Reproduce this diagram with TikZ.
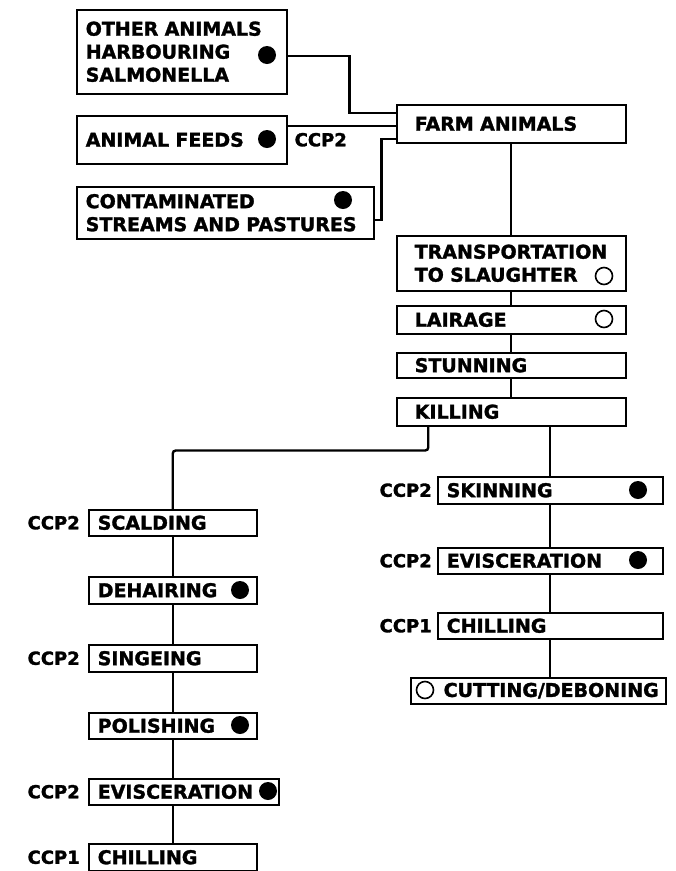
\documentclass[tikz,border=0pt]{standalone}
\usepackage{fontspec}
\setmainfont{DejaVu Sans}
\newfontfamily\heavy{DejaVu Sans Bold}[FakeBold=1.6]
\begin{document}
\begin{tikzpicture}[x=1pt,y=-1pt,
  box/.style={draw, line width=1.5pt, anchor=north west, inner xsep=9pt, inner ysep=0pt,
     font=\fontsize{19}{23}\selectfont\heavy, align=left},
  mainbox/.style={box, inner xsep=18pt, minimum width=229pt, text width=193pt},
  ccp/.style={font=\fontsize{18}{22}\selectfont\heavy, inner sep=0pt},
  conn/.style={line width=2.4pt},
  fdot/.style={circle, fill=black, minimum size=18pt, inner sep=0pt},
  odot/.style={circle, draw, line width=1.6pt, minimum size=17pt, inner sep=0pt}]
\useasboundingbox (0,0) rectangle (676,871);
% top sources
\node[box, minimum width=210pt, minimum height=84pt, text width=192pt] (other) at (76,9) {OTHER ANIMALS\\HARBOURING\\SALMONELLA};
\node[box, minimum width=210pt, minimum height=48pt, text width=192pt] (feeds) at (76,115) {ANIMAL FEEDS};
\node[box, minimum width=297pt, minimum height=52pt, text width=279pt] (contam) at (76,186) {CONTAMINATED\\STREAMS AND PASTURES};
\node[fdot] (d1) at (267,55) {};
\node[fdot] (d2) at (267,139) {};
\node[fdot] (d3) at (343,200) {};
\node[ccp, anchor=west] (c0) at ([xshift=7pt]feeds.east) {CCP2};
% main column
\node[mainbox, minimum height=38pt] (farm) at (396,104) {FARM ANIMALS};
\node[mainbox, minimum height=55pt] (trans) at (396,235) {TRANSPORTATION\\TO SLAUGHTER};
\node[mainbox, minimum height=28pt] (lair) at (396,305) {LAIRAGE};
\node[mainbox, minimum height=25pt] (stun) at (396,352) {STUNNING};
\node[mainbox, minimum height=28pt] (kill) at (396,397) {KILLING};
\node[odot] (o1) at (604,276) {};
\node[odot] (o2) at (604,319) {};
% left column
\node[box, minimum width=168pt, minimum height=26pt, text width=150pt] (scald) at (88,509) {SCALDING};
\node[box, minimum width=168pt, minimum height=27pt, text width=150pt] (dehair) at (88,576) {DEHAIRING};
\node[box, minimum width=168pt, minimum height=27pt, text width=150pt] (singe) at (88,644) {SINGEING};
\node[box, minimum width=168pt, minimum height=26pt, text width=150pt] (polish) at (88,712) {POLISHING};
\node[box, minimum width=190pt, minimum height=26pt, text width=172pt] (evL) at (88,778) {EVISCERATION};
\node[box, minimum width=168pt, minimum height=27pt, text width=150pt] (chL) at (88,843) {CHILLING};
\node[fdot] (d4) at (240,590) {};
\node[fdot] (d5) at (240,725) {};
\node[fdot] (d6) at (268,791) {};
\node[ccp, anchor=east] (c1) at ([xshift=-8pt]scald.west) {CCP2};
\node[ccp, anchor=east] (c2) at ([xshift=-8pt]singe.west) {CCP2};
\node[ccp, anchor=east] (c3) at ([xshift=-8pt]evL.west) {CCP2};
\node[ccp, anchor=east] (c4) at ([xshift=-8pt]chL.west) {CCP1};
% right column
\node[box, minimum width=225pt, minimum height=27pt, text width=207pt] (skin) at (437,476) {SKINNING};
\node[box, minimum width=225pt, minimum height=26pt, text width=207pt] (evR) at (437,547) {EVISCERATION};
\node[box, minimum width=225pt, minimum height=26pt, text width=207pt] (chR) at (437,612) {CHILLING};
\node[box, minimum width=255pt, minimum height=26pt, text width=241pt, inner xsep=7pt] (cut) at (410,677) {\hfill\mbox{CUTTING/DEBONING}};
\node[fdot] (d7) at (638,490) {};
\node[fdot] (d8) at (638,560) {};
\node[odot] (o3) at (425,690) {};
\node[ccp, anchor=east] (c5) at ([xshift=-5pt]skin.west) {CCP2};
\node[ccp, anchor=east] (c6) at ([xshift=-5pt]evR.west) {CCP2};
\node[ccp, anchor=east] (c7) at ([xshift=-5pt]chR.west) {CCP1};
% connectors
\draw[conn] ([yshift=-4pt]other.east) -- ++(62,0) |- ([yshift=11pt]farm.west);
\draw[conn] ([yshift=14pt]feeds.east) -- ([yshift=14pt]feeds.east -| farm.west);
\draw[conn] ([yshift=-7pt]contam.east) -- ++(7,0) |- ([yshift=-15pt]farm.west);
\draw[conn] (farm.south) -- (trans.north);
\draw[conn] (trans.south) -- (lair.north);
\draw[conn] (lair.south) -- (stun.north);
\draw[conn] (stun.south) -- (kill.north);
\draw[conn, rounded corners=3pt] ([xshift=-83pt]kill.south) -- ++(0,24) -| (scald.north);
\draw[conn] (scald.south) -- (dehair.north);
\draw[conn] (dehair.south) -- (singe.north);
\draw[conn] (singe.south) -- (polish.north);
\draw[conn] (polish.south) -- (polish.south |- evL.north);
\draw[conn] (polish.south |- evL.south) -- (chL.north);
\draw[conn] (skin.north |- kill.south) -- (skin.north);
\draw[conn] (skin.south) -- (evR.north);
\draw[conn] (evR.south) -- (chR.north);
\draw[conn] (chR.south) -- (chR.south |- cut.north);
\end{tikzpicture}
\end{document}
